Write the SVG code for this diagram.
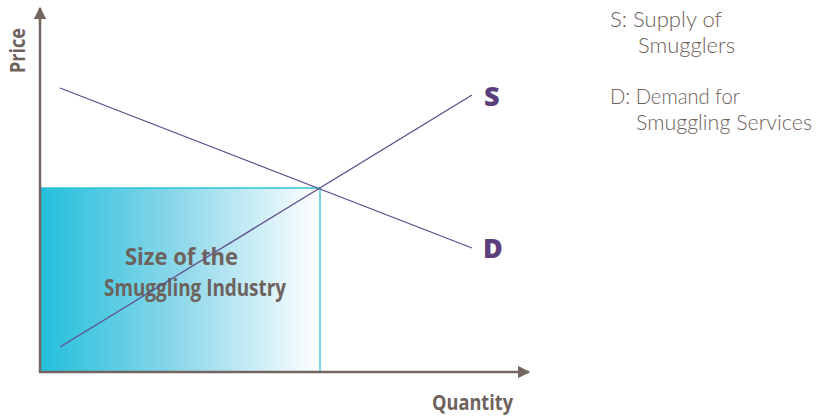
<svg xmlns="http://www.w3.org/2000/svg" width="817" height="417" viewBox="0 0 817 417">
<style>
.ax{stroke:#736660;stroke-width:2.5;fill:none}
.cv{stroke:#5e4f8a;stroke-width:1.3;fill:none}
.lbl{font-family:"Open Sans","Liberation Sans",sans-serif;font-weight:700;fill:#6e625c}
.cl{font-family:"Open Sans","Liberation Sans",sans-serif;font-weight:800;fill:#5a3f7c;font-size:27px}
.lg{font-family:"Lato","Open Sans",sans-serif;font-weight:300;fill:#6e625c;font-size:22px}
</style>
<defs>
<linearGradient id="g" x1="0" y1="0" x2="1" y2="0">
<stop offset="0" stop-color="#22bfdc"/>
<stop offset="0.5" stop-color="#8ed8ea"/>
<stop offset="1" stop-color="#ffffff"/>
</linearGradient>
<marker id="ah" viewBox="0 0 10 10" refX="9" refY="5" markerWidth="5" markerHeight="5" orient="auto" markerUnits="strokeWidth">
<path d="M0,0 L10,5 L0,10 z" fill="#736660"/>
</marker>
</defs>
<g id="area">
<rect x="40" y="188" width="280" height="184" fill="url(#g)"/>
<path d="M40,188 H320 V372" stroke="#2cc3da" stroke-width="1.3" fill="none"/>
<text class="lbl" font-size="24" x="125" y="265" textLength="113" lengthAdjust="spacingAndGlyphs">Size of the</text>
<text class="lbl" font-size="24" x="104" y="296" textLength="182" lengthAdjust="spacingAndGlyphs">Smuggling Industry</text>
</g>
<g id="connectors">
<line class="cv" x1="60" y1="347" x2="472" y2="95"/>
<line class="cv" x1="60" y1="88" x2="472" y2="248"/>
</g>
<g id="axes">
<path class="ax" d="M40,372 V8" marker-end="url(#ah)"/>
<path class="ax" d="M39,372 H529" marker-end="url(#ah)"/>
<text class="lbl" font-size="21" transform="translate(25,73) rotate(-90)" textLength="45" lengthAdjust="spacingAndGlyphs">Price</text>
<text class="lbl" font-size="21" x="432" y="410" textLength="81" lengthAdjust="spacingAndGlyphs">Quantity</text>
</g>
<g id="S"><text class="cl" x="484" y="106">S</text></g>
<g id="D"><text class="cl" x="483" y="258">D</text></g>
<g id="legend">
<text class="lg" x="610" y="27" textLength="112" lengthAdjust="spacingAndGlyphs">S:  Supply of</text>
<text class="lg" x="638" y="53" textLength="97" lengthAdjust="spacingAndGlyphs">Smugglers</text>
<text class="lg" x="610" y="104" textLength="130" lengthAdjust="spacingAndGlyphs">D: Demand for</text>
<text class="lg" x="636" y="130" textLength="176" lengthAdjust="spacingAndGlyphs">Smuggling Services</text>
</g>
</svg>
